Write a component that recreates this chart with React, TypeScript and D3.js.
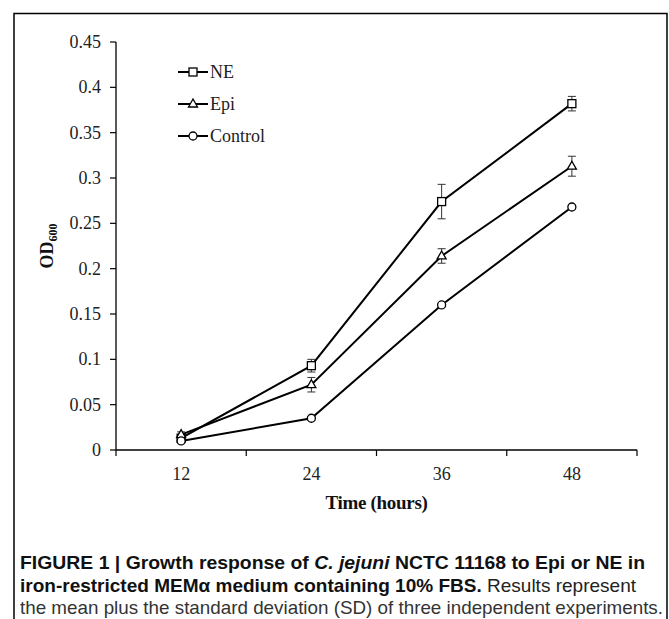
import React from "react";
import * as d3 from "d3";

const categories = ["12", "24", "36", "48"];
const seriesNames = ["NE", "Epi", "Control"];
const neValues = [0.013, 0.093, 0.274, 0.382];
const neErrors = [0.004, 0.007, 0.019, 0.008];
const epiValues = [0.017, 0.072, 0.214, 0.313];
const epiErrors = [0.003, 0.008, 0.008, 0.011];
const controlValues = [0.010, 0.035, 0.160, 0.268];
const controlErrors = [0.002, 0.002, 0.002, 0.002];
const yTicks = [0, 0.05, 0.1, 0.15, 0.2, 0.25, 0.3, 0.35, 0.4, 0.45];
const yTickLabels = ["0", "0.05", "0.1", "0.15", "0.2", "0.25", "0.3", "0.35", "0.4", "0.45"];

const W = 669;
const H = 619;
const serif = "'Liberation Serif', 'Times New Roman', serif";
const sans = "'Liberation Sans', Arial, sans-serif";

type Sym = "square" | "triangle" | "circle";

function Marker({ x, y, sym }: { x: number; y: number; sym: Sym }) {
  const s = 4;
  if (sym === "square")
    return <rect x={x - s} y={y - s} width={2 * s} height={2 * s} fill="white" stroke="black" strokeWidth={1.3} />;
  if (sym === "triangle")
    return (
      <path
        d={`M${x},${y - s - 1}L${x + s + 0.5},${y + s - 1}L${x - s - 0.5},${y + s - 1}Z`}
        fill="white"
        stroke="black"
        strokeWidth={1.3}
      />
    );
  return <circle cx={x} cy={y} r={s} fill="white" stroke="black" strokeWidth={1.3} />;
}

export default function App() {
  const x0 = 116;
  const x1 = 637;
  const yBottom = 450;
  const yTop = 42;
  const xBand = d3.scaleBand<string>().domain(categories).range([x0, x1]).padding(0);
  const xc = (c: string) => (xBand(c) as number) + xBand.bandwidth() / 2;
  const y = d3.scaleLinear().domain([0, 0.45]).range([yBottom, yTop]);
  const line = d3
    .line<number>()
    .x((_, i) => xc(categories[i]))
    .y((d) => y(d));

  const series: { name: string; vals: number[]; errs: number[]; sym: Sym }[] = [
    { name: seriesNames[0], vals: neValues, errs: neErrors, sym: "square" },
    { name: seriesNames[1], vals: epiValues, errs: epiErrors, sym: "triangle" },
    { name: seriesNames[2], vals: controlValues, errs: controlErrors, sym: "circle" },
  ];

  const legendY = [72, 104, 136];

  return (
    <svg width={W} height={H} style={{ position: "absolute", left: 0, top: 0, background: "white" }}>
      <rect x={0} y={0} width={W} height={H} fill="white" />
      {/* frame */}
      <path d={`M14,${H}V13.5H667V${H}`} fill="none" stroke="black" strokeWidth={1.5} />

      {/* y axis */}
      <line x1={x0} x2={x0} y1={yTop} y2={yBottom} stroke="black" strokeWidth={1.3} />
      {yTicks.map((t, i) => (
        <g key={i}>
          <line x1={x0 - 6} x2={x0} y1={y(t)} y2={y(t)} stroke="black" strokeWidth={1.2} />
          <text x={x0 - 15} y={y(t)} dy="0.33em" textAnchor="end" fontFamily={serif} fontSize={18} fill="#222">
            {yTickLabels[i]}
          </text>
        </g>
      ))}
      {/* x axis */}
      <line x1={x0} x2={x1} y1={yBottom} y2={yBottom} stroke="black" strokeWidth={1.3} />
      {categories.map((c, i) => (
        <g key={c}>
          <line
            x1={(xBand(c) as number) + xBand.bandwidth()}
            x2={(xBand(c) as number) + xBand.bandwidth()}
            y1={yBottom}
            y2={yBottom + 6}
            stroke="black"
            strokeWidth={1.2}
          />
          {i === 0 && <line x1={x0} x2={x0} y1={yBottom} y2={yBottom + 6} stroke="black" strokeWidth={1.2} />}
          <text x={xc(c)} y={yBottom + 24} dy="0.33em" textAnchor="middle" fontFamily={serif} fontSize={18} fill="#222">
            {c}
          </text>
        </g>
      ))}
      <text x={(x0 + x1) / 2} y={503} dy="0.33em" textAnchor="middle" fontFamily={serif} fontSize={19} fontWeight="bold" fill="#111" letterSpacing={-0.3}>
        Time (hours)
      </text>
      <text
        transform={`translate(47,${(yTop + yBottom) / 2}) rotate(-90)`}
        textAnchor="middle"
        dy="0.33em"
        fontFamily={serif}
        fontSize={18}
        fontWeight="bold"
        fill="#111"
      >
        OD<tspan fontSize={12} dy="4">600</tspan>
      </text>

      {/* series */}
      {series.map((s) => (
        <g key={s.name}>
          <path d={line(s.vals) as string} fill="none" stroke="black" strokeWidth={2} />
          {s.vals.map((v, i) => {
            const cx = xc(categories[i]);
            const e = s.errs[i];
            return (
              <g key={i}>
                <line x1={cx} x2={cx} y1={y(v + e)} y2={y(v - e)} stroke="#333" strokeWidth={1} />
                <line x1={cx - 4} x2={cx + 4} y1={y(v + e)} y2={y(v + e)} stroke="#333" strokeWidth={1} />
                <line x1={cx - 4} x2={cx + 4} y1={y(v - e)} y2={y(v - e)} stroke="#333" strokeWidth={1} />
                <Marker x={cx} y={y(v)} sym={s.sym} />
              </g>
            );
          })}
        </g>
      ))}

      {/* legend */}
      {series.map((s, i) => (
        <g key={s.name}>
          <line x1={178} x2={208} y1={legendY[i]} y2={legendY[i]} stroke="black" strokeWidth={2} />
          <Marker x={193} y={legendY[i]} sym={s.sym} />
          <text x={210} y={legendY[i]} dy="0.33em" fontFamily={serif} fontSize={18} fill="#222">
            {s.name}
          </text>
        </g>
      ))}

      {/* caption */}
      <text x={20} y={569} fontFamily={sans} fontSize={18.5} fontWeight="bold" fill="#111" textLength={625} lengthAdjust="spacingAndGlyphs">
        FIGURE 1 | Growth response of <tspan fontStyle="italic">C. jejuni</tspan> NCTC 11168 to Epi or NE in
      </text>
      <text x={20} y={592} fontFamily={sans} fontSize={18.5} fill="#222" textLength={616} lengthAdjust="spacingAndGlyphs">
        <tspan fontWeight="bold" fill="#111">iron-restricted MEMα medium containing 10% FBS.</tspan> Results represent
      </text>
      <text x={20} y={614} fontFamily={sans} fontSize={18.5} fill="#333" textLength={643} lengthAdjust="spacingAndGlyphs">
        the mean plus the standard deviation (SD) of three independent experiments.
      </text>
    </svg>
  );
}
